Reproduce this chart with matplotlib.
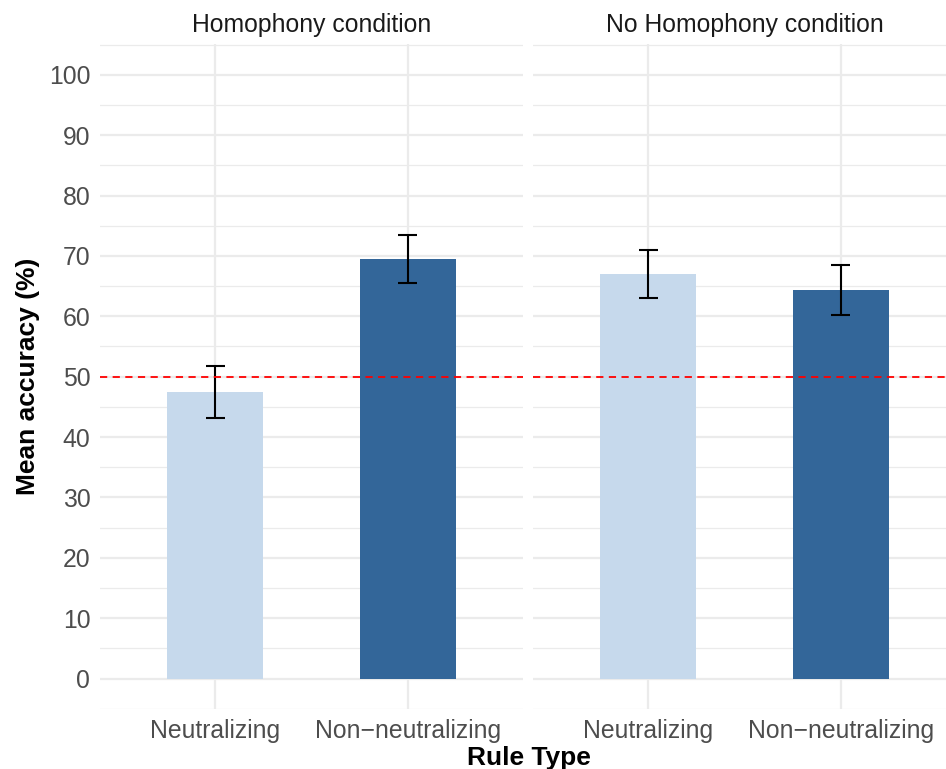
import matplotlib.pyplot as plt
import numpy as np

plt.rcParams['font.family'] = ['Liberation Sans', 'DejaVu Sans']

# Mean accuracy (%) and standard error per rule type, one panel per condition
conditions = ["Homophony condition", "No Homophony condition"]
rule_types = ["Neutralizing", "Non\u2212neutralizing"]
homophony_mean = [47.5, 69.5]
homophony_se = [4.3, 4.0]
no_homophony_mean = [67.0, 64.4]
no_homophony_se = [4.05, 4.15]
chance_level = 50

bar_colors = ["#c6d9ec", "#336699"]
grid_color = "#ebebeb"
text_gray = "#4d4d4d"

fig = plt.figure(figsize=(9.46, 7.69), dpi=100)
W, H = 946, 769

def panel_rect(x0, x1, top=44, bottom=709):
    return [x0 / W, 1 - bottom / H, (x1 - x0) / W, (bottom - top) / H]

ax_left = fig.add_axes(panel_rect(100, 523))
ax_right = fig.add_axes(panel_rect(533, 956))

panels = [
    (ax_left, conditions[0], homophony_mean, homophony_se),
    (ax_right, conditions[1], no_homophony_mean, no_homophony_se),
]

x = np.arange(1, len(rule_types) + 1)
for ax, title, means, ses in panels:
    ax.set_xlim(0.4, 2.6)
    ax.set_ylim(-5.05, 105.1)
    # grid
    for v in np.arange(-5, 106, 10):
        ax.axhline(v, color=grid_color, lw=0.9, zorder=0)
    for v in np.arange(0, 101, 10):
        ax.axhline(v, color=grid_color, lw=1.6, zorder=0)
    for xi in x:
        ax.axvline(xi, color=grid_color, lw=1.6, zorder=0)
    ax.bar(x, means, width=0.5, color=bar_colors, zorder=2)
    lo = np.array(means) - np.array(ses)
    hi = np.array(means) + np.array(ses)
    ax.vlines(x, lo, hi, color="black", lw=1.5, zorder=3)
    ax.hlines(lo, x - 0.05, x + 0.05, color="black", lw=1.5, zorder=3)
    ax.hlines(hi, x - 0.05, x + 0.05, color="black", lw=1.5, zorder=3)
    ax.axhline(chance_level, color="red", lw=1.3, dashes=(4, 3), zorder=4)
    for s in ax.spines.values():
        s.set_visible(False)
    ax.set_xticks(x)
    ax.set_xticklabels(rule_types)
    ax.tick_params(axis="both", length=0, labelsize=17.8, colors=text_gray)
    ax.tick_params(axis="x", pad=7)
    ax.tick_params(axis="y", pad=7)
    ax.set_yticks(np.arange(0, 101, 10))
    cx = (ax.get_position().x0 + ax.get_position().x1) / 2
    fig.text(cx, 1 - 25 / H, title, ha="center", va="center", fontsize=17.8, color="#1a1a1a")

ax_right.tick_params(axis="y", labelleft=False)

fig.text(28 / W, 1 - 376 / H, "Mean accuracy (%)", rotation=90, ha="center", va="center",
         fontsize=19, fontweight="bold")
fig.text(529 / W, 1 - 758 / H, "Rule Type", ha="center", va="center",
         fontsize=19, fontweight="bold")

fig.savefig("out.png", dpi=100)
